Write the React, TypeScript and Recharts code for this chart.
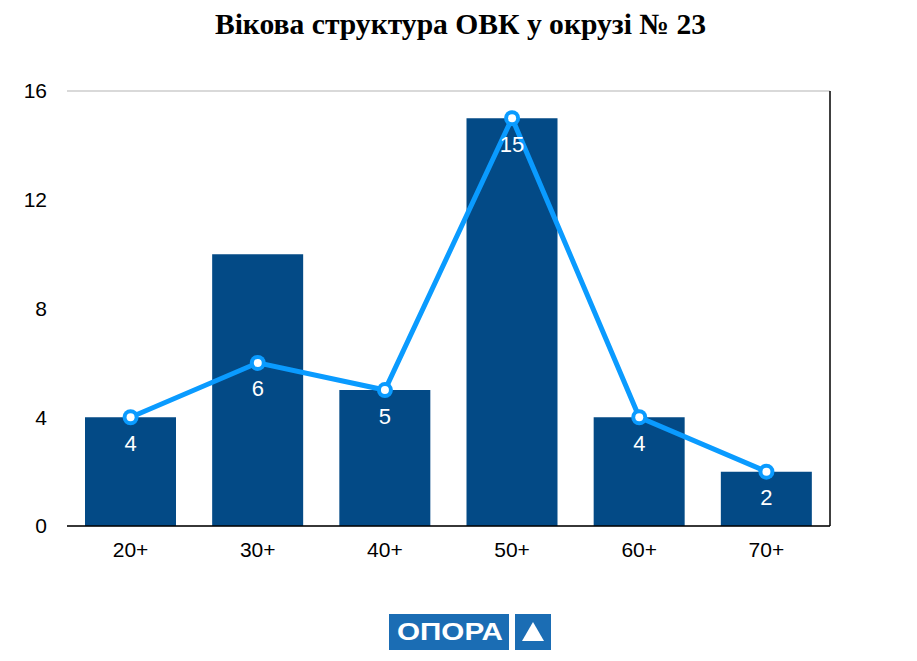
import React from 'react';
import { ComposedChart, Bar, Line, XAxis, YAxis, CartesianGrid, LabelList } from 'recharts';

const categories = ['20+', '30+', '40+', '50+', '60+', '70+'];
const barValues = [4, 10, 5, 15, 4, 2];
const lineValues = [4, 6, 5, 15, 4, 2];
const yTicks = [0, 4, 8, 12, 16];

const data = categories.map((c, i) => ({ name: c, bar: barValues[i], line: lineValues[i] }));

const BAR_COLOR = '#034a86';
const LINE_COLOR = '#0a9bff';
const LOGO_COLOR = '#1b6db4';
const FONT = '"Liberation Sans", Arial, Helvetica, sans-serif';

const Dot = (props: any) => {
  const { cx, cy } = props;
  if (cx == null || cy == null) return null;
  return (
    <g>
      <circle cx={cx} cy={cy} r={8} fill={LINE_COLOR} />
      <circle cx={cx} cy={cy} r={4} fill="#ffffff" />
    </g>
  );
};

export default function App() {
  return (
    <div style={{ position: 'absolute', left: 0, top: 0, width: 917, height: 661, background: '#fff' }}>
      <div
        style={{
          position: 'absolute',
          left: 2,
          top: 5,
          width: 917,
          textAlign: 'center',
          fontFamily: '"Liberation Serif", "Times New Roman", serif',
          fontWeight: 'bold',
          fontSize: 29.6,
          lineHeight: '38px',
          color: '#000',
          whiteSpace: 'nowrap',
        }}
      >
        Вікова структура ОВК у окрузі № 23
      </div>
      <ComposedChart
        width={917}
        height={661}
        data={data}
        margin={{ top: 91, right: 27, bottom: 75, left: 7 }}
        style={{ position: 'absolute', left: 0, top: 0 }}
      >
        <CartesianGrid horizontal vertical={false} stroke="#b3b3b3" strokeWidth={1} />
        <XAxis
          dataKey="name"
          height={60}
          axisLine={{ stroke: '#000', strokeWidth: 1.5 }}
          tickLine={false}
          tickSize={0}
          tickMargin={16}
          tick={{ fill: '#000', fontSize: 21, fontFamily: FONT }}
        />
        <YAxis
          yAxisId="left"
          orientation="left"
          width={60}
          domain={[0, 16]}
          ticks={yTicks}
          axisLine={false}
          tickLine={false}
          tickSize={0}
          tickMargin={20}
          tick={{ fill: '#000', fontSize: 21, fontFamily: FONT }}
        />
        <YAxis
          yAxisId="right"
          orientation="right"
          width={60}
          domain={[0, 16]}
          ticks={yTicks}
          axisLine={{ stroke: '#000', strokeWidth: 1.5 }}
          tickLine={false}
          tickSize={0}
          tickMargin={18}
          tick={{ fill: '#000', fontSize: 21, fontFamily: FONT }}
        />
        <Bar yAxisId="left" dataKey="bar" fill={BAR_COLOR} barSize={91} isAnimationActive={false} />
        <Line
          yAxisId="left"
          type="linear"
          dataKey="line"
          stroke={LINE_COLOR}
          strokeWidth={5}
          dot={<Dot />}
          activeDot={false}
          isAnimationActive={false}
        >
          <LabelList dataKey="line" position="bottom" offset={18} fill="#ffffff" fontSize={22} fontFamily={FONT} />
        </Line>
      </ComposedChart>
      <svg
        width={917}
        height={661}
        style={{ position: 'absolute', left: 0, top: 0, pointerEvents: 'none' }}
      >
        <rect x={389} y={614} width={120} height={36} fill={LOGO_COLOR} />
        <text
          x={397}
          y={640}
          textLength={106}
          lengthAdjust="spacingAndGlyphs"
          fill="#ffffff"
          fontFamily={FONT}
          fontWeight="bold"
          fontSize={23}
        >
          ОПОРА
        </text>
        <rect x={515} y={614} width={36} height={36} fill={LOGO_COLOR} />
        <polygon points="533,622 544,641 522,641" fill="#ffffff" />
      </svg>
    </div>
  );
}
